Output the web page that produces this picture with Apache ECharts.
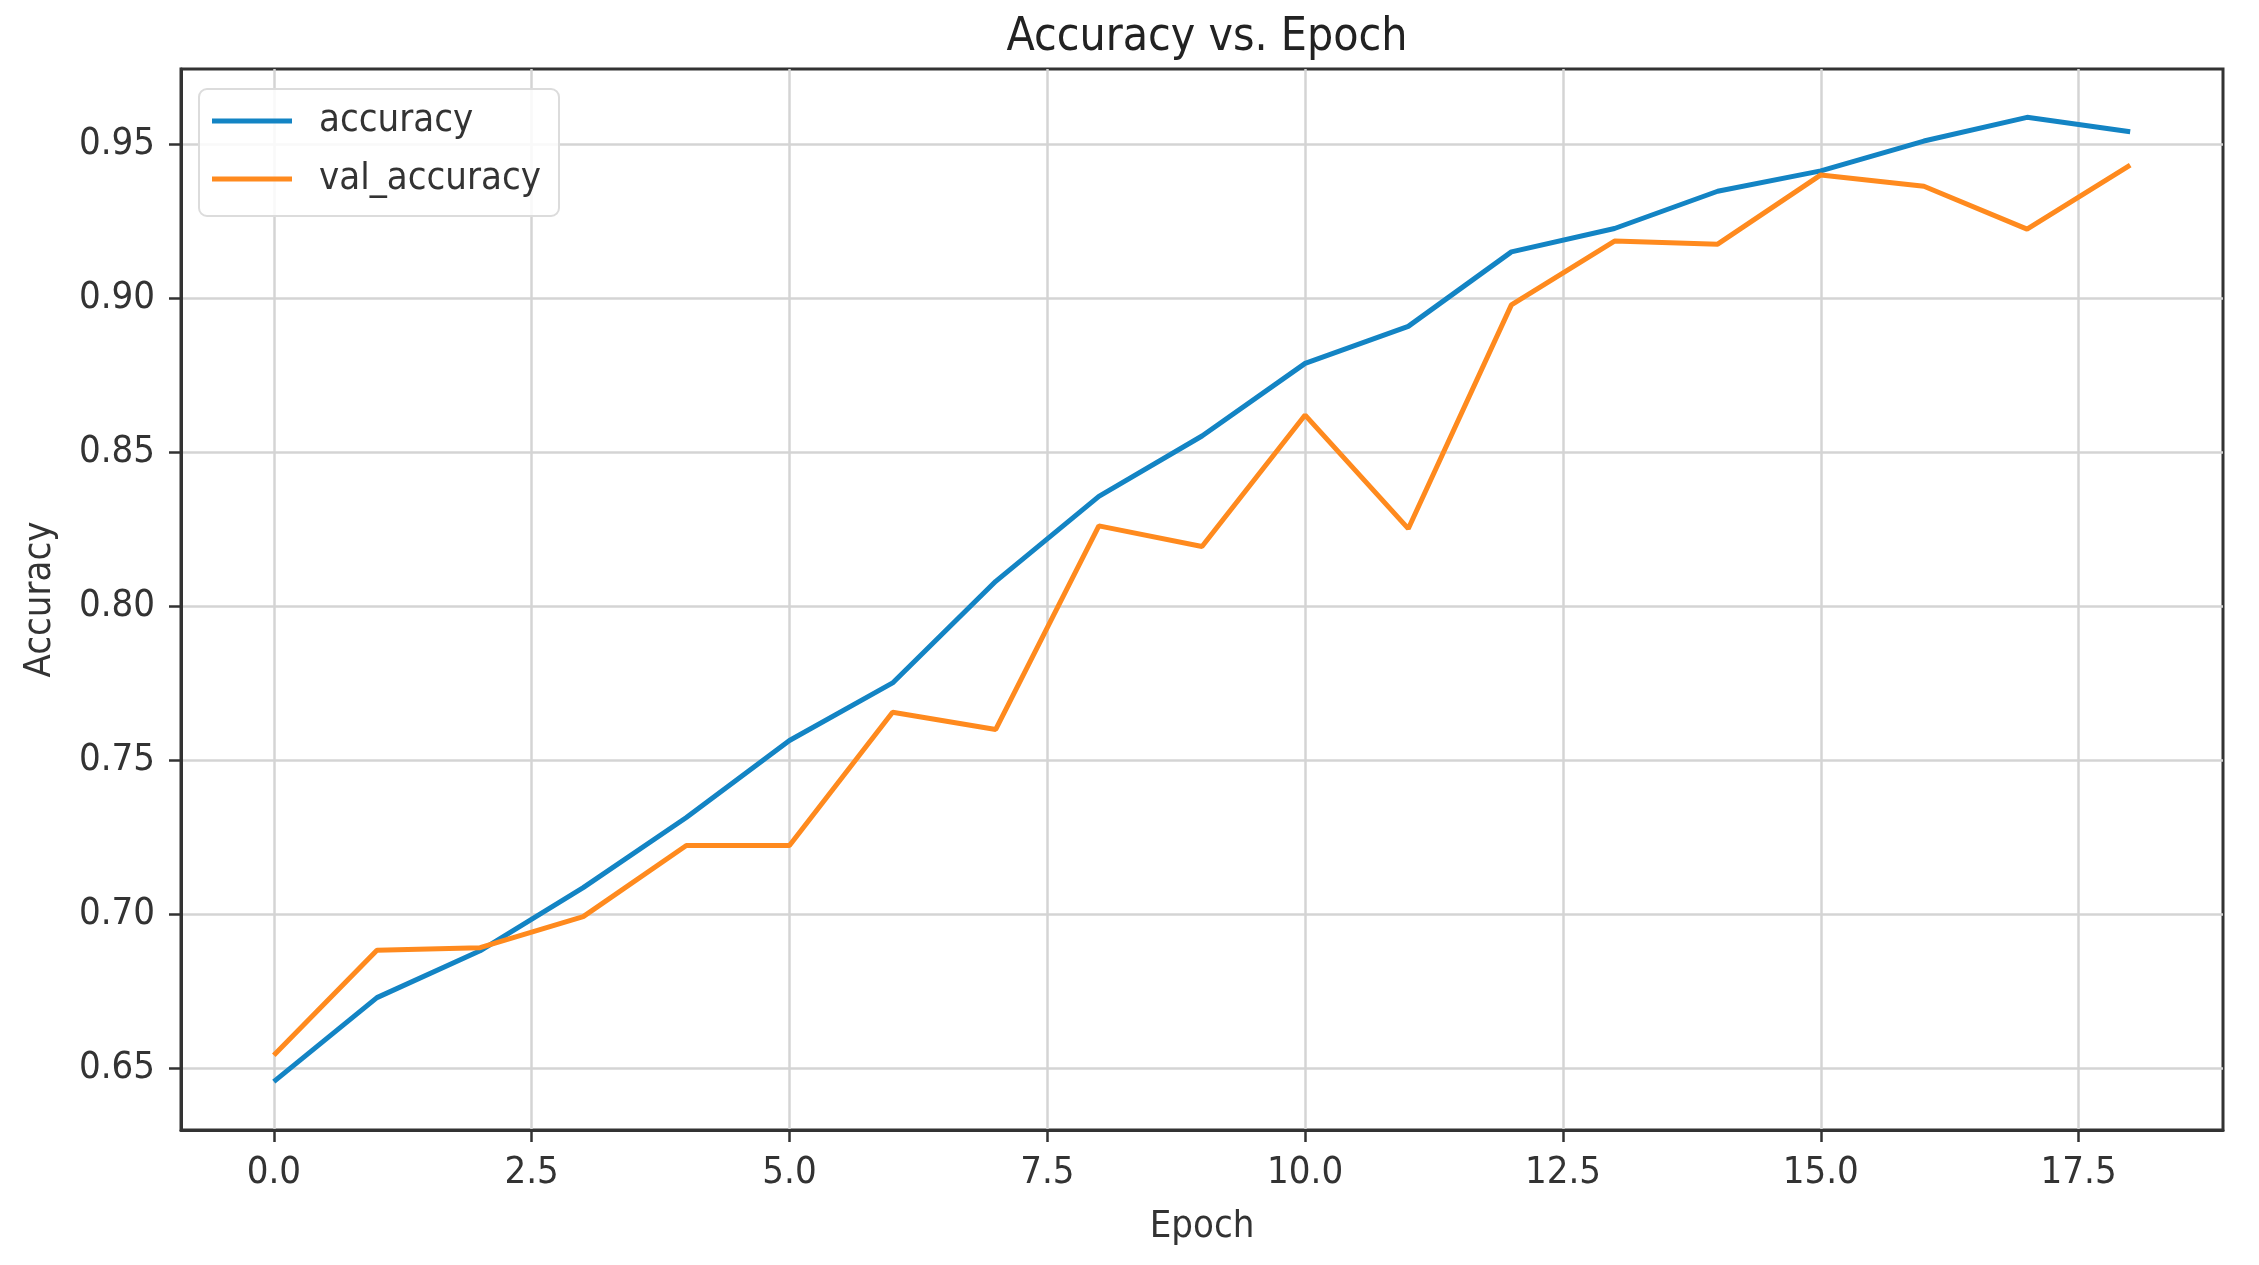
<!DOCTYPE html>
<html>
<head>
<meta charset="utf-8">
<title>Accuracy vs. Epoch</title>
<script src="https://cdn.jsdelivr.net/npm/echarts@6/dist/echarts.min.js"></script>
<style>
  html, body { margin: 0; padding: 0; background: #fff; }
  #main { width: 2259px; height: 1265px; }
</style>
</head>
<body>
<div id="main"></div>
<script>
// epochs 0..18
var epochs = [0, 1, 2, 3, 4, 5, 6, 7, 8, 9, 10, 11, 12, 13, 14, 15, 16, 17, 18];
// training accuracy
var accuracy = [0.6455, 0.6728, 0.6880, 0.7085, 0.7313, 0.7563, 0.7750, 0.8080, 0.8356, 0.8552,
  0.8788, 0.8908, 0.9150, 0.9226, 0.9347, 0.9413, 0.9510, 0.9587, 0.9540];
// validation accuracy
var valAccuracy = [0.6541, 0.6882, 0.6890, 0.6991, 0.7222, 0.7222, 0.7655, 0.7599, 0.8260, 0.8193,
  0.8620, 0.8251, 0.8978, 0.9185, 0.9175, 0.9400, 0.9363, 0.9224, 0.9432];
// tick labels
var xTicks = [0, 2.5, 5, 7.5, 10, 12.5, 15, 17.5];
var yTicks = [0.65, 0.70, 0.75, 0.80, 0.85, 0.90, 0.95];

var font = "'DejaVu Sans Condensed', 'DejaVu Sans', sans-serif";
var textColor = '#333';

function pairs(ys) {
  return epochs.map(function (x, i) { return [x, ys[i]]; });
}

var myChart = echarts.init(document.getElementById('main'));
var option = {
  backgroundColor: '#fff',
  animation: false,
  title: {
    text: 'Accuracy vs. Epoch',
    left: 1202,
    top: 10,
    textAlign: 'center',
    textStyle: { fontFamily: font, fontSize: 46, fontWeight: 'normal', color: '#222' }
  },
  legend: {
    left: 199,
    top: 89,
    orient: 'vertical',
    icon: 'rect',
    itemWidth: 80,
    itemHeight: 5,
    itemGap: 12,
    padding: [9, 18, 14, 13],
    backgroundColor: 'rgba(255,255,255,0.85)',
    borderColor: '#dcdcdc',
    borderWidth: 2,
    borderRadius: 8,
    textStyle: { fontFamily: font, fontSize: 38, color: textColor, lineHeight: 46, padding: [0, 0, 0, 22] },
    data: ['accuracy', 'val_accuracy']
  },
  grid: {
    left: 181,
    right: 36,
    top: 69,
    bottom: 135,
    show: true,
    borderColor: '#333',
    borderWidth: 3,
    containLabel: false
  },
  xAxis: {
    type: 'value',
    min: -0.9,
    max: 18.9,
    name: 'Epoch',
    nameLocation: 'middle',
    nameGap: 78,
    nameTextStyle: { fontFamily: font, fontSize: 38, color: textColor },
    axisLine: { show: true, onZero: false, lineStyle: { color: '#333', width: 3 } },
    axisTick: { show: true, length: 12, lineStyle: { color: '#333', width: 2.5 }, customValues: xTicks },
    axisLabel: {
      fontFamily: font, fontSize: 38, color: textColor, margin: 24,
      customValues: xTicks,
      formatter: function (v) { return v.toFixed(1); }
    },
    splitLine: { show: true, lineStyle: { color: '#d4d4d4', width: 2.5 } }
  },
  yAxis: {
    type: 'value',
    min: 0.6298,
    max: 0.9744,
    name: 'Accuracy',
    nameLocation: 'middle',
    nameGap: 122,
    nameTextStyle: { fontFamily: font, fontSize: 38, color: textColor },
    axisLine: { show: true, onZero: false, lineStyle: { color: '#333', width: 3 } },
    axisTick: { show: true, length: 12, lineStyle: { color: '#333', width: 2.5 }, customValues: yTicks },
    axisLabel: {
      fontFamily: font, fontSize: 38, color: textColor, margin: 26,
      customValues: yTicks,
      formatter: function (v) { return v.toFixed(2); }
    },
    splitLine: { show: true, lineStyle: { color: '#d4d4d4', width: 2.5 } }
  },
  series: [{
    name: 'accuracy',
    type: 'line',
    data: pairs(accuracy),
    showSymbol: false,
    symbol: 'none',
    color: '#1384c4',
    lineStyle: { width: 5 }
  }, {
    name: 'val_accuracy',
    type: 'line',
    data: pairs(valAccuracy),
    showSymbol: false,
    symbol: 'none',
    color: '#ff8a1e',
    lineStyle: { width: 5 }
  }]
};

myChart.setOption(option);
</script>
</body>
</html>
